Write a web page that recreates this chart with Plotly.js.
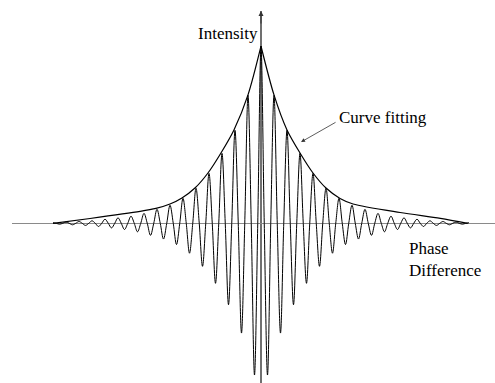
<!DOCTYPE html>
<html>
<head>
<meta charset="utf-8">
<script src="https://cdn.plot.ly/plotly-3.0.1.min.js"></script>
<style>html,body{margin:0;padding:0;background:#fff}#chart{width:495px;height:383px}</style>
</head>
<body>
<div id="chart"></div>
<script>
// Interferogram signal: phase (in periods) and intensity (peak = 100)
const signalPhase = [
-16,-15.75,-15.5,-15.25,-15,-14.75,-14.5,-14.25,-14,-13.75,-13.5,-13.25,-13,-12.75,-12.5,-12.25,
-12,-11.75,-11.5,-11.25,-11,-10.75,-10.5,-10.25,-10,-9.75,-9.5,-9.25,-9,-8.75,-8.5,-8.25,
-8,-7.75,-7.5,-7.25,-7,-6.75,-6.5,-6.25,-6,-5.75,-5.5,-5.25,-5,-4.75,-4.5,-4.25,
-4,-3.75,-3.5,-3.25,-3,-2.75,-2.5,-2.25,-2,-1.75,-1.5,-1.25,-1,-0.75,-0.5,-0.25,
0,
0.25,0.5,0.75,1,1.25,1.5,1.75,2,2.25,2.5,2.75,3,3.25,3.5,3.75,4,
4.25,4.5,4.75,5,5.25,5.5,5.75,6,6.25,6.5,6.75,7,7.25,7.5,7.75,8,
8.25,8.5,8.75,9,9.25,9.5,9.75,10,10.25,10.5,10.75,11,11.25,11.5,11.75,12,
12.25,12.5,12.75,13,13.25,13.5,13.75,14,14.25,14.5,14.75,15,15.25,15.5,15.75,16
];
const signalValue = [
0.3,0,-0.5,0,0.7,0,-0.85,0,1.0,0,-1.2,0,1.4,0,-1.8,0,
2.3,0,-2.6,0,3.1,0,-3.5,0,4.0,0,-4.8,0,5.6,0,-6.8,0,
7.9,0,-8.9,0,10.2,0,-12,0,14.1,0,-16.9,0,19.8,0,-24.3,0,
28.2,0,-33.9,0,39.5,0,-46,0,52.5,0,-62,0,72.3,0,-85.7,0,
100,
0,-85.7,0,72.3,0,-62,0,52.5,0,-46,0,39.5,0,-33.9,0,28.2,
0,-24.3,0,19.8,0,-16.9,0,14.1,0,-12,0,10.2,0,-8.9,0,7.9,
0,-6.8,0,5.6,0,-4.8,0,4.0,0,-3.5,0,3.1,0,-2.6,0,2.3,
0,-1.8,0,1.4,0,-1.2,0,1.0,0,-0.85,0,0.7,0,-0.5,0,0.3
];
// Curve fitting (envelope), left and right branches meeting at the cusp
const fitLeftPhase  = [-16, -13.15, -9.3, -8.08, -7, -6.08, -5.08, -4.08, -3.08, -2.08, -1, 0];
const fitLeftValue  = [0, 2.7, 6.7, 8.4, 10.9, 14.3, 19.9, 28.4, 39.7, 52.7, 72.5, 100];
const fitRightPhase = [0, 1, 2, 3, 4, 5, 6.08, 7.08, 10.7, 13.8, 15.9];
const fitRightValue = [100, 72.5, 52.7, 39.7, 28.4, 19.9, 14, 10.9, 6.1, 2.8, 0];

const labelIntensity = 'Intensity';
const labelFit = 'Curve fitting';
const labelPhase = 'Phase<br>Difference';

const FONT = {family: '"Liberation Serif", "Times New Roman", serif', size: 17, color: '#000'};

const traces = [
  {x: signalPhase, y: signalValue, mode: 'lines', line: {color: '#000', width: 1, shape: 'spline', smoothing: 1}, hoverinfo: 'skip'},
  {x: fitLeftPhase, y: fitLeftValue, mode: 'lines', line: {color: '#000', width: 1.2, shape: 'spline', smoothing: 0.8}, hoverinfo: 'skip'},
  {x: fitRightPhase, y: fitRightValue, mode: 'lines', line: {color: '#000', width: 1.2, shape: 'spline', smoothing: 0.8}, hoverinfo: 'skip'}
];

const layout = {
  width: 495, height: 383,
  margin: {l: 12, r: 0, t: 11, b: 0, pad: 0},
  paper_bgcolor: '#fff', plot_bgcolor: '#fff',
  showlegend: false,
  font: FONT,
  xaxis: {range: [-19.154, 18.0], showgrid: false, showticklabels: false, ticks: '', showline: false,
          zeroline: true, zerolinecolor: '#707070', zerolinewidth: 2, fixedrange: true},
  yaxis: {range: [-90.2, 119.9], showgrid: false, showticklabels: false, ticks: '', showline: false,
          zeroline: true, zerolinecolor: '#8a8a8a', zerolinewidth: 1, fixedrange: true},
  annotations: [
    {x: 0, xref: 'x', y: 1, yref: 'paper', ax: 0, ay: 14, axref: 'pixel', ayref: 'pixel',
     text: '', showarrow: true, arrowhead: 2, arrowsize: 1, arrowwidth: 1, arrowcolor: '#333', standoff: 0},
    {x: 3.08, y: 45.9, xref: 'x', yref: 'y', ax: 5.85, ay: 57.5, axref: 'x', ayref: 'y',
     text: '', showarrow: true, arrowhead: 2, arrowsize: 1, arrowwidth: 0.8, arrowcolor: '#333', standoff: 0},
    {x: -0.1, y: 107.3, xref: 'x', yref: 'y', xanchor: 'right', yanchor: 'middle',
     text: labelIntensity, showarrow: false, font: FONT},
    {x: 5.85, y: 59.9, xref: 'x', yref: 'y', xanchor: 'left', yanchor: 'middle',
     text: labelFit, showarrow: false, font: FONT},
    {x: 11.2, y: -20.6, xref: 'x', yref: 'y', xanchor: 'left', yanchor: 'middle', align: 'left',
     text: labelPhase, showarrow: false, font: FONT}
  ]
};

Plotly.newPlot('chart', traces, layout, {staticPlot: true, displayModeBar: false});
</script>
</body>
</html>
